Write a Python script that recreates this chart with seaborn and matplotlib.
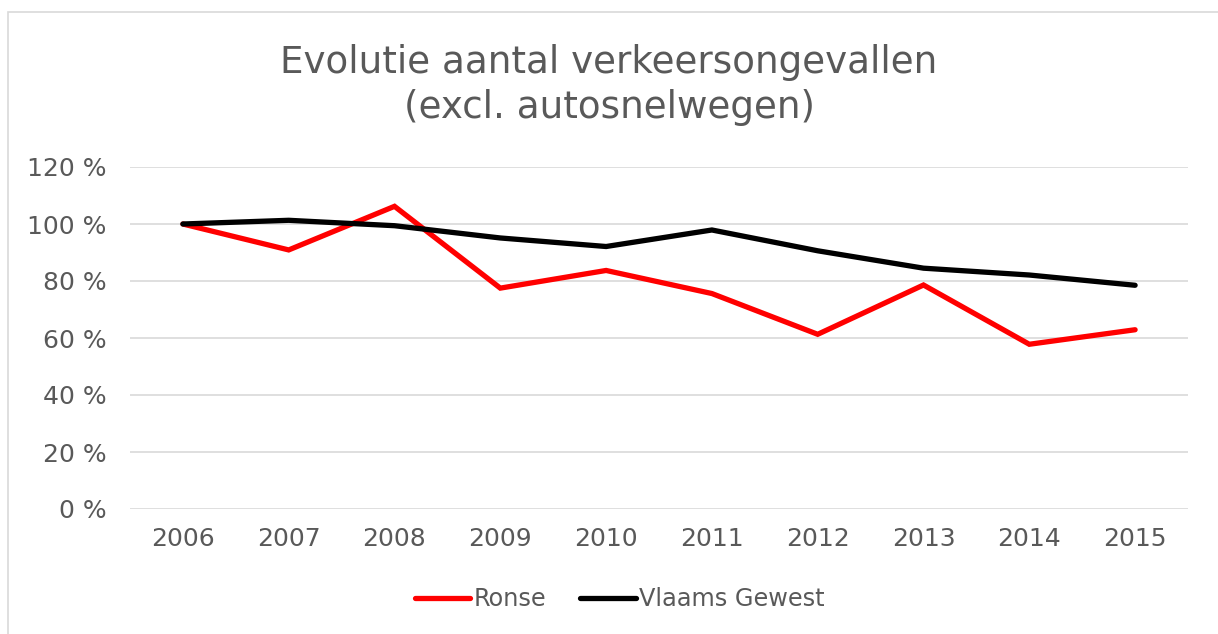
import pandas as pd
import seaborn as sns
import matplotlib.pyplot as plt
from matplotlib.patches import Rectangle

jaren = [2006, 2007, 2008, 2009, 2010, 2011, 2012, 2013, 2014, 2015]
ronse = [100, 90.9, 106.2, 77.5, 83.7, 75.6, 61.3, 78.6, 57.8, 62.9]
vlaams = [100, 101.3, 99.4, 95.1, 92.1, 97.9, 90.6, 84.5, 82.1, 78.5]
reeksen = ['Ronse', 'Vlaams Gewest']
kleuren = ['#ff0000', '#000000']

data = pd.DataFrame({
    'Jaar': [str(j) for j in jaren] * 2,
    'Waarde': ronse + vlaams,
    'Reeks': [reeksen[0]] * len(jaren) + [reeksen[1]] * len(jaren),
})

sns.set_style('white')
plt.rcParams['font.family'] = ['DejaVu Sans']
grijs = '#595959'

fig = plt.figure(figsize=(12.18, 6.34), dpi=100)
ax = fig.add_axes([130 / 1218, 1 - 509 / 634, 1058 / 1218, 342 / 634])

sns.lineplot(data=data, x='Jaar', y='Waarde', hue='Reeks', palette=kleuren,
             linewidth=3.8, sort=False, ax=ax)
for lijn in ax.lines:
    lijn.set_solid_capstyle('round')
    lijn.set_solid_joinstyle('miter')

ax.set_xlim(-0.5, len(jaren) - 0.5)
ax.set_ylim(0, 120)
ax.set_yticks(range(0, 121, 20))
ax.set_yticklabels([f'{v} %' for v in range(0, 121, 20)])
ax.yaxis.grid(True, color='#d9d9d9', linewidth=1.2)
ax.set_axisbelow(True)
for s in ax.spines.values():
    s.set_visible(False)
ax.tick_params(axis='y', length=0, pad=17, labelsize=18, labelcolor=grijs)
ax.tick_params(axis='x', length=0, pad=13, labelsize=18, labelcolor=grijs)
ax.set_xlabel('')
ax.set_ylabel('')

fig.suptitle('Evolutie aantal verkeersongevallen\n(excl. autosnelwegen)',
             fontsize=26.8, color=grijs, y=1 - 44 / 634, va='top', linespacing=1.28)

ax.legend(loc='center', bbox_to_anchor=(620 / 1218, 1 - 599 / 634),
          bbox_transform=fig.transFigure, ncol=2, frameon=False,
          fontsize=17.3, labelcolor=grijs, handlelength=2.3,
          handletextpad=0.15, columnspacing=1.4)

fig.patches.append(Rectangle((8 / 1218, -0.01), 1.1, 1 - 12 / 634 + 0.01,
                             transform=fig.transFigure, fill=False,
                             edgecolor='#d9d9d9', linewidth=1.2))

plt.savefig('out.png', dpi=100)
